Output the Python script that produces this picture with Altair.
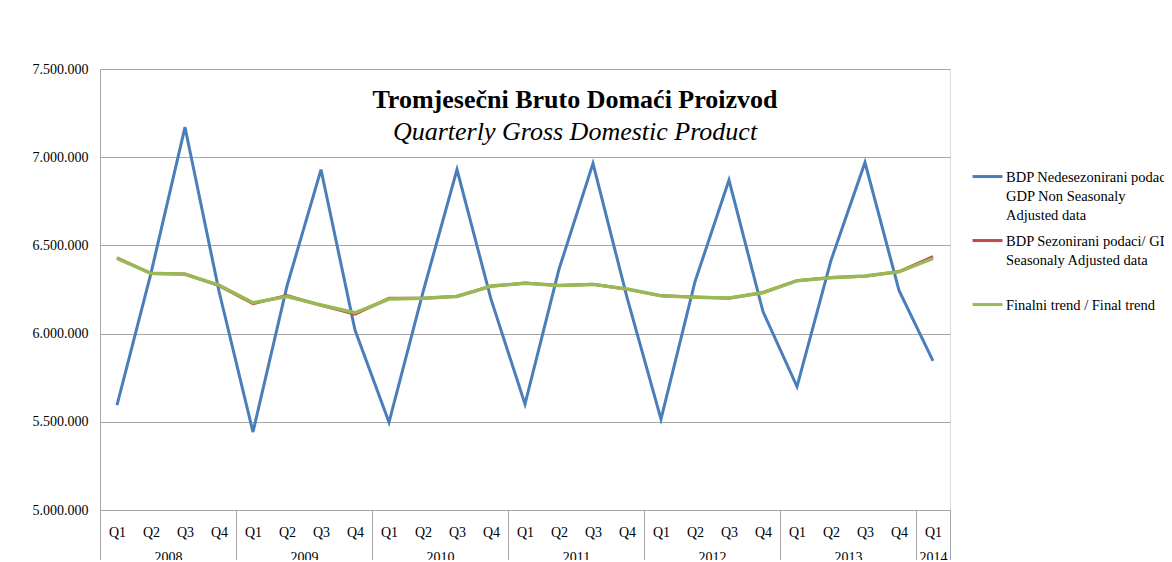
import json
import altair as alt
import pandas as pd

quarters = ["Q1", "Q2", "Q3", "Q4"] * 6 + ["Q1"]
years = [2008] * 4 + [2009] * 4 + [2010] * 4 + [2011] * 4 + [2012] * 4 + [2013] * 4 + [2014]

nsa = [5595000, 6343000, 7170000, 6240000,
       5442000, 6270000, 6930000, 6020000,
       5497000, 6235000, 6930000, 6195000,
       5600000, 6365000, 6965000, 6205000,
       5515000, 6295000, 6870000, 6125000,
       5700000, 6415000, 6970000, 6245000,
       5845000]
sa = [6430000, 6340000, 6338000, 6272000,
      6170000, 6216000, 6160000, 6110000,
      6200000, 6200000, 6212000, 6268000,
      6287000, 6273000, 6280000, 6252000,
      6214000, 6207000, 6201000, 6233000,
      6300000, 6318000, 6325000, 6352000,
      6437000]
trend = [6427000, 6342000, 6336000, 6275000,
         6175000, 6210000, 6162000, 6118000,
         6196000, 6200000, 6210000, 6270000,
         6285000, 6273000, 6279000, 6253000,
         6215000, 6206000, 6202000, 6232000,
         6300000, 6317000, 6326000, 6350000,
         6427000]

series_names = [
    "BDP Nedesezonirani podaci/ GDP Non Seasonaly Adjusted data",
    "BDP Sezonirani podaci/ GDP Seasonaly Adjusted data",
    "Finalni trend / Final trend",
]
legend_lines = [
    ["BDP Nedesezonirani podaci/", "GDP Non Seasonaly", "Adjusted data"],
    ["BDP Sezonirani podaci/ GDP", "Seasonaly Adjusted data"],
    ["Finalni trend / Final trend"],
]
colors = ["#4A7EBB", "#BE4B48", "#98B954"]
y_ticks = [5000000, 5500000, 6000000, 6500000, 7000000, 7500000]
year_boundaries = [-0.5, 3.5, 7.5, 11.5, 15.5, 19.5, 23.5, 24.5]
year_centers = [1.5, 5.5, 9.5, 13.5, 17.5, 21.5, 24]
year_labels = ["2008", "2009", "2010", "2011", "2012", "2013", "2014"]

rows = []
for name, vals in zip(series_names, [nsa, sa, trend]):
    for i, v in enumerate(vals):
        rows.append({"idx": i, "quarter": quarters[i], "year": years[i],
                     "series": name, "value": v})
df = pd.DataFrame(rows)

FONT = "Liberation Serif"
GRID = "#a6a6a6"

x_scale = alt.Scale(domain=[-0.5, 24.5], nice=False, zero=False)
y_scale = alt.Scale(domain=[5000000, 7500000], nice=False, zero=False)
color_scale = alt.Scale(domain=series_names, range=colors)

legend_expr = " : ".join(
    f"datum.label == {json.dumps(n)} ? {json.dumps(l)}"
    for n, l in zip(series_names[:-1], legend_lines[:-1])
) + f" : {json.dumps(legend_lines[-1])}"

q_expr = " : ".join(f"datum.value == {i} ? '{q}'" for i, q in enumerate(quarters)) + " : ''"
yr_expr = " : ".join(f"datum.value == {c} ? '{l}'" for c, l in zip(year_centers, year_labels)) + " : ''"

y_enc = alt.Y("value:Q", scale=y_scale,
              axis=alt.Axis(values=y_ticks, title=None, grid=True, gridColor=GRID,
                            domainColor=GRID, ticks=False, labelPadding=12,
                            labelFont=FONT, labelFontSize=14, labelColor="black",
                            labelExpr="replace(format(datum.value, ','), regexp(',', 'g'), '.')"))

legend = alt.Legend(title=None, orient="none", legendX=875, legendY=89,
                    symbolType="M-1.36,0.55H1.36", symbolSize=484, symbolStrokeWidth=3,
                    labelFont=FONT, labelFontSize=14.5, labelColor="black",
                    labelBaseline="top", labelLimit=0, labelOffset=6,
                    gridAlign="all", rowPadding=0, labelExpr=legend_expr)

base = alt.Chart(df)

q_axis = alt.Axis(values=list(range(25)), labelExpr=q_expr, title=None, orient="bottom",
                  ticks=False, domainColor=GRID, grid=False, labelPadding=15,
                  labelFont=FONT, labelFontSize=14, labelColor="black")

layers = []
for k, name in enumerate(series_names):
    layers.append(
        base.transform_filter(alt.datum.series == name).mark_line(
            strokeWidth=3 if k < 2 else 3.5
        ).encode(
            x=alt.X("idx:Q", scale=x_scale, axis=q_axis if k == 0 else None),
            y=y_enc,
            color=alt.Color("series:N", scale=color_scale, legend=legend),
        )
    )

sep_layer = base.transform_filter(alt.datum.series == series_names[2]).mark_point(opacity=0).encode(
    x=alt.X("idx:Q", scale=x_scale,
            axis=alt.Axis(values=year_boundaries, title=None, orient="bottom", labels=False,
                          ticks=True, tickSize=60, tickColor=GRID, domain=False, grid=False)),
    y=y_enc,
)
year_layer = base.transform_filter(alt.datum.series == series_names[2]).mark_point(opacity=0).encode(
    x=alt.X("idx:Q", scale=x_scale,
            axis=alt.Axis(values=year_centers, labelExpr=yr_expr, title=None, orient="bottom",
                          ticks=False, domain=False, grid=False, labelPadding=40,
                          labelFont=FONT, labelFontSize=14, labelColor="black")),
    y=y_enc,
)

chart = alt.layer(*layers, sep_layer, year_layer).resolve_axis(x="independent").properties(
    width=850, height=441,
    padding={"left": 92, "top": 61, "right": 214, "bottom": 50},
    autosize=alt.AutoSizeParams(type="none"),
    title=alt.Title(text="Tromjesečni Bruto Domaći Proizvod",
                    subtitle="Quarterly Gross Domestic Product",
                    font=FONT, fontSize=26, fontWeight="bold", color="black",
                    subtitleFont=FONT, subtitleFontSize=26, subtitleFontStyle="italic",
                    subtitleColor="black", subtitlePadding=6,
                    anchor="middle", dx=50, offset=-83),
).configure_view(stroke=None).configure(style={"guide-label": {"lineHeight": 19}})

chart.save("out.html", embed_options={"renderer": "svg", "actions": False})
